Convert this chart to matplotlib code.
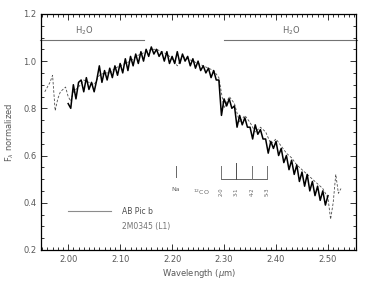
import numpy as np
import matplotlib
matplotlib.use("Agg")
import matplotlib.pyplot as plt
from matplotlib.ticker import MultipleLocator

# AB Pic b spectrum (solid), sampled every 0.005 um from 2.000 to 2.500
wl_ab = np.round(np.arange(2.000, 2.5001, 0.005), 3)
flux_ab = [0.82, 0.80, 0.90, 0.84, 0.91, 0.92, 0.87, 0.93, 0.88, 0.91,
           0.87, 0.92, 0.98, 0.91, 0.96, 0.92, 0.97, 0.93, 0.98, 0.94,
           0.99, 0.95, 1.01, 0.96, 1.02, 0.98, 1.03, 0.99, 1.04, 1.00,
           1.05, 1.02, 1.06, 1.03, 1.05, 1.02, 1.04, 1.00, 1.04, 0.99,
           1.02, 0.99, 1.04, 0.99, 1.03, 1.00, 1.02, 0.98, 1.01, 0.97,
           1.00, 0.96, 0.98, 0.95, 0.97, 0.93, 0.96, 0.92, 0.92, 0.77,
           0.84, 0.81, 0.84, 0.80, 0.81, 0.72, 0.77, 0.73, 0.76, 0.72,
           0.72, 0.67, 0.73, 0.69, 0.71, 0.67, 0.67, 0.61, 0.66, 0.63,
           0.66, 0.60, 0.63, 0.57, 0.60, 0.54, 0.58, 0.52, 0.56, 0.49,
           0.53, 0.47, 0.52, 0.45, 0.49, 0.43, 0.47, 0.41, 0.45, 0.39,
           0.43]

# comparison template (dashed)
wl_cmp = [1.955, 1.960, 1.965, 1.970, 1.975, 1.980, 1.985, 1.990, 1.995, 2.000,
          2.005, 2.010, 2.020, 2.030, 2.040, 2.050, 2.060, 2.070, 2.080, 2.090,
          2.100, 2.110, 2.120, 2.130, 2.140, 2.150, 2.160, 2.170, 2.180, 2.190,
          2.200, 2.210, 2.220, 2.230, 2.240, 2.250, 2.260, 2.270, 2.280, 2.290,
          2.300, 2.310, 2.320, 2.330, 2.340, 2.350, 2.360, 2.370, 2.380, 2.390,
          2.400, 2.410, 2.420, 2.430, 2.440, 2.450, 2.460, 2.470, 2.480, 2.490,
          2.500, 2.505, 2.510, 2.515, 2.520, 2.525]
flux_cmp = [0.87, 0.89, 0.91, 0.94, 0.79, 0.84, 0.87, 0.88, 0.89, 0.85,
            0.83, 0.87, 0.89, 0.92, 0.91, 0.90, 0.94, 0.95, 0.95, 0.97,
            0.98, 0.99, 1.00, 1.02, 1.03, 1.04, 1.05, 1.05, 1.04, 1.03,
            1.01, 0.98, 1.02, 1.01, 1.00, 0.99, 0.98, 0.97, 0.96, 0.93,
            0.80, 0.85, 0.82, 0.74, 0.77, 0.74, 0.70, 0.72, 0.70, 0.65,
            0.67, 0.64, 0.61, 0.59, 0.56, 0.54, 0.52, 0.50, 0.48, 0.46,
            0.42, 0.33, 0.40, 0.52, 0.44, 0.46]

# features
h2o_left = (1.945, 2.145)
h2o_right = (2.300, 2.555)
h2o_level = 1.09
na_wl = 2.207
co_heads = [2.2935, 2.3227, 2.3535, 2.3829]
co_labels = ["2-0", "3-1", "4-2", "5-3"]

plt.rcParams['font.family'] = ['DejaVu Sans']
fig = plt.figure(figsize=(3.74, 2.84), dpi=100)
ax = fig.add_axes([0.110, 0.120, 0.842, 0.831])

ax.plot(wl_cmp, flux_cmp, color='0.3', lw=0.6, dashes=(3, 2))
ax.plot(wl_ab, flux_ab, color='black', lw=1.1)

ax.set_xlim(1.948, 2.554)
ax.set_ylim(0.2, 1.2)
ax.xaxis.set_major_locator(MultipleLocator(0.1))
ax.xaxis.set_minor_locator(MultipleLocator(0.01))
ax.yaxis.set_major_locator(MultipleLocator(0.2))
ax.yaxis.set_minor_locator(MultipleLocator(0.05))
ax.xaxis.set_major_formatter(plt.FormatStrFormatter('%.2f'))
ax.yaxis.set_major_formatter(plt.FormatStrFormatter('%.1f'))
ax.tick_params(which='both', direction='in', top=True, right=True,
               labelsize=6, labelcolor='0.35', color='0.2', width=0.7)
ax.tick_params(which='major', length=4)
ax.tick_params(which='minor', length=2)
for s in ax.spines.values():
    s.set_linewidth(0.9)

ax.set_xlabel(r"Wavelength ($\mu$m)", fontsize=6, color='0.35', labelpad=2)
ax.set_ylabel(r"F$_\lambda$ normalized", fontsize=6, color='0.35', labelpad=5)

# H2O bands
ax.plot(h2o_left, [h2o_level] * 2, color='0.45', lw=0.8, clip_on=False)
ax.plot(h2o_right, [h2o_level] * 2, color='0.45', lw=0.8, clip_on=False)
ax.text(2.03, h2o_level + 0.012, r"H$_2$O", fontsize=6, color='0.4',
        ha='center', va='bottom')
ax.text(2.43, h2o_level + 0.012, r"H$_2$O", fontsize=6, color='0.4',
        ha='center', va='bottom')

# Na
ax.plot([na_wl, na_wl], [0.51, 0.555], color='0.4', lw=0.7)
ax.text(na_wl, 0.455, "Na", fontsize=4.5, color='0.4', ha='center', va='center')

# 12CO bandheads
ax.plot([co_heads[0], co_heads[-1]], [0.50, 0.50], color='0.4', lw=0.7)
for i, (w, lab) in enumerate(zip(co_heads, co_labels)):
    top = 0.57 if i == 1 else 0.555
    ax.plot([w, w], [0.50, top], color='0.3' if i == 1 else '0.45', lw=0.7)
    ax.text(w, 0.445, lab, fontsize=3.8, color='0.4', rotation=90,
            ha='center', va='center')
ax.text(2.273, 0.445, r"$^{12}$CO", fontsize=4.5, color='0.4',
        ha='right', va='center')

# legend
ax.plot([2.00, 2.083], [0.363, 0.363], color='0.55', lw=0.8)
ax.text(2.103, 0.363, "AB Pic b", fontsize=5.5, color='0.3', va='center')
ax.text(2.103, 0.30, "2M0345 (L1)", fontsize=5.5, color='0.45', va='center')

fig.savefig("out.png", dpi=100)
